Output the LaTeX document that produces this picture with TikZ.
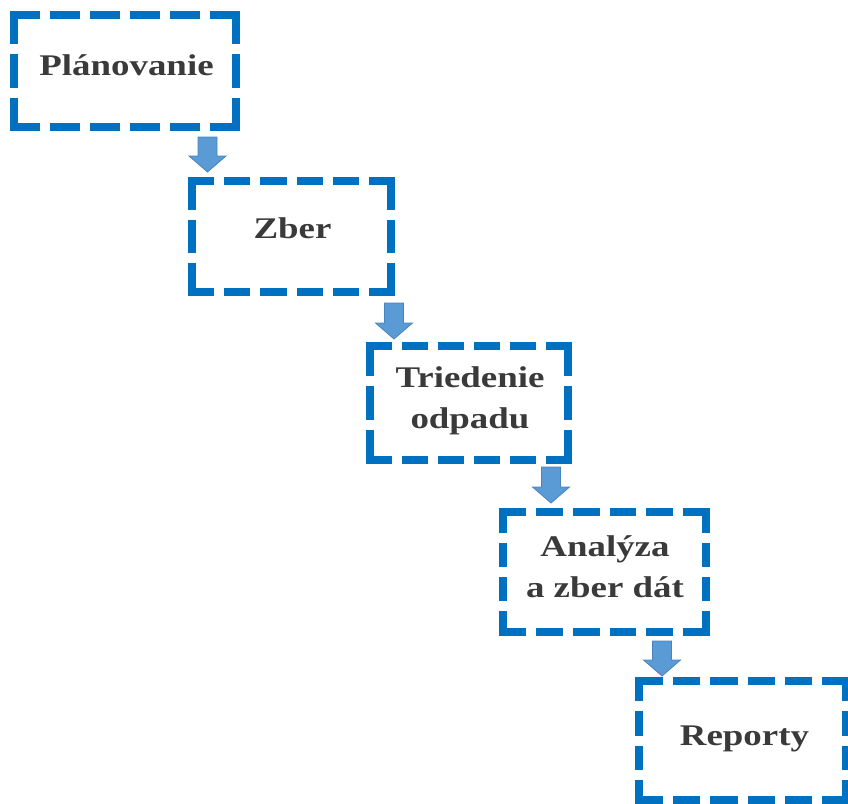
\documentclass[tikz,border=0pt]{standalone}
\usepackage{fontspec}
\setmainfont{Liberation Serif}[FakeStretch=1.23]
\usetikzlibrary{calc}

\definecolor{boxblue}{HTML}{0070C0}
\definecolor{arrowfill}{HTML}{5B9BD5}
\definecolor{arrowedge}{HTML}{4A84BE}
\definecolor{textgray}{HTML}{3A3A3A}

\tikzset{
  stagebox/.style={inner sep=0pt, outer sep=0pt},
  frameside/.style={draw=boxblue, line width=7.5pt, line cap=rect},
  stagetext/.style={text=textgray, align=center, inner sep=0pt,
    font=\bfseries\fontsize{30}{41}\selectfont},
  flowarrow/.style={fill=arrowfill, draw=arrowedge, line width=0.8pt, line join=miter},
}

% dashed frame of stage node #1 (width #2, height #3); every side gets a
% whole number of dashes, so each side starts and ends with a dash and
% the corners are closed (rect caps add 3.75pt at both ends of a dash)
\newcommand\stageframe[3]{%
  \pgfmathsetmacro\hdash{(#2+17.5)/max(1,round((#2+17.5)/38))-17.5}%
  \pgfmathsetmacro\vdash{(#3+17.5)/max(1,round((#3+17.5)/38))-17.5}%
  \draw[frameside, dash pattern=on \hdash pt off 17.5pt] (#1.north west) -- (#1.north east);
  \draw[frameside, dash pattern=on \vdash pt off 17.5pt] (#1.north east) -- (#1.south east);
  \draw[frameside, dash pattern=on \hdash pt off 17.5pt] (#1.south east) -- (#1.south west);
  \draw[frameside, dash pattern=on \vdash pt off 17.5pt] (#1.south west) -- (#1.north west);}

% block arrow from the bottom of #1 to the top of #2 at horizontal position #3,
% starting #4 below #1 and ending #5 above #2
\newcommand\flowstep[5]{%
  \draw[flowarrow] let \p1=(#1.south), \p2=(#2.north) in
    (#3pt-9.5pt, \y1-#4pt) -- (#3pt+9.5pt, \y1-#4pt)
    -- (#3pt+9.5pt, \y2+#5pt+16pt) -- (#3pt+18.5pt, \y2+#5pt+16pt)
    -- (#3pt, \y2+#5pt)
    -- (#3pt-18.5pt, \y2+#5pt+16pt) -- (#3pt-9.5pt, \y2+#5pt+16pt) -- cycle;}

\begin{document}
\begin{tikzpicture}[x=1pt, y=-1pt]
  \useasboundingbox (0,0) rectangle (848,803);

  % stage areas and their frames
  \node[stagebox, minimum width=222pt, minimum height=112pt] (b1) at (125,71) {};
  \node[stagebox, minimum width=199pt, minimum height=111pt] (b2) at (291.5,236.5) {};
  \node[stagebox, minimum width=198pt, minimum height=114pt] (b3) at (469,403) {};
  \node[stagebox, minimum width=203pt, minimum height=120pt] (b4) at (604.5,572) {};
  \node[stagebox, minimum width=207pt, minimum height=119pt] (b5) at (742.5,740.5) {};
  \stageframe{b1}{222}{112}
  \stageframe{b2}{199}{111}
  \stageframe{b3}{198}{114}
  \stageframe{b4}{203}{120}
  \stageframe{b5}{207}{119}

  % stage names (base = baseline of the last line)
  \node[stagetext, anchor=base] (t1) at (126.5,75) {Plánovanie};
  \node[stagetext, anchor=base] (t2) at (292.5,238) {Zber};
  \node[stagetext, anchor=base] (t3) at (470,428) {Triedenie\\odpadu};
  \node[stagetext, anchor=base] (t4) at (605,597) {Analýza\\a zber dát};
  \node[stagetext, anchor=base] (t5) at (744.5,745) {Reporty};

  % arrows between stages
  \flowstep{b1}{b2}{207.5}{10}{9}
  \flowstep{b2}{b3}{394}{11}{7}
  \flowstep{b3}{b4}{551}{7}{9}
  \flowstep{b4}{b5}{662}{9}{5}
\end{tikzpicture}
\end{document}
